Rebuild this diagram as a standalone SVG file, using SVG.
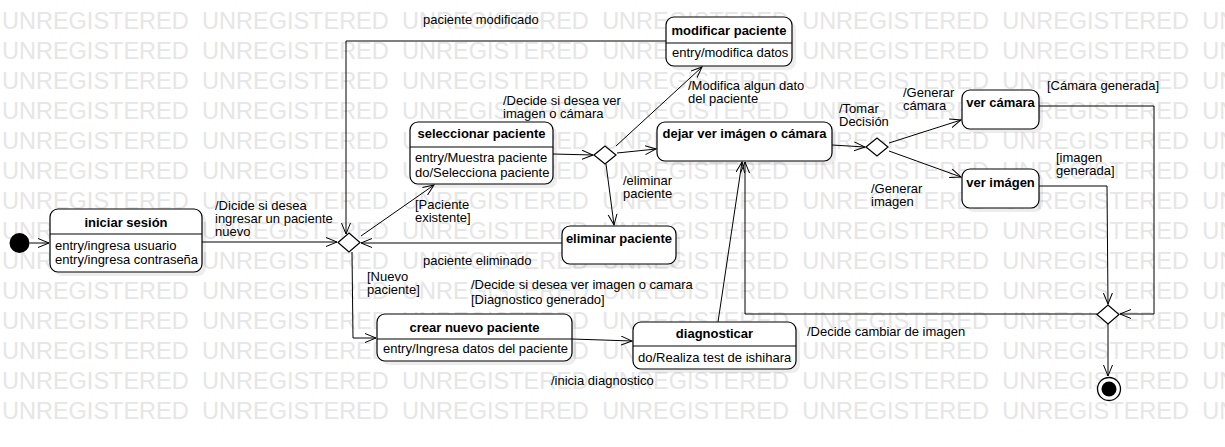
<svg xmlns="http://www.w3.org/2000/svg" xmlns:xlink="http://www.w3.org/1999/xlink" width="1225" height="447" viewBox="0 0 1225 447">
<style>
.wm{font-family:"Liberation Sans",Arial,sans-serif;font-size:23.5px;fill:#e6e6e6;word-spacing:6.8px}
.box{fill:#fff;stroke:#000;stroke-width:1.2}
.sh{fill:#000;opacity:0.07}
.dv{stroke:#000;stroke-width:1.2}
.t{font-family:"Liberation Sans",Arial,sans-serif;font-size:13px;fill:#000}
.b{font-weight:bold}
.ln{fill:none;stroke:#000;stroke-width:1;marker-end:url(#arr)}
.dm{fill:#fff;stroke:#000;stroke-width:1.2}
</style>
<defs>
<marker id="arr" markerWidth="12" markerHeight="11" refX="11" refY="5" orient="auto" markerUnits="userSpaceOnUse"><path d="M0,0.5 L11,5 L0,9.5" fill="none" stroke="#000" stroke-width="1"/></marker>
<text id="wmrow" class="wm" x="2" y="0">UNREGISTERED UNREGISTERED UNREGISTERED UNREGISTERED UNREGISTERED UNREGISTERED UNREGISTERED</text>
</defs>
<rect width="1225" height="447" fill="#fff"/>
<g id="watermark">
<use xlink:href="#wmrow" y="29"/><use xlink:href="#wmrow" y="59"/><use xlink:href="#wmrow" y="89"/><use xlink:href="#wmrow" y="119"/><use xlink:href="#wmrow" y="149"/><use xlink:href="#wmrow" y="179"/><use xlink:href="#wmrow" y="209"/><use xlink:href="#wmrow" y="239"/><use xlink:href="#wmrow" y="269"/><use xlink:href="#wmrow" y="299"/><use xlink:href="#wmrow" y="329"/><use xlink:href="#wmrow" y="359"/><use xlink:href="#wmrow" y="389"/><use xlink:href="#wmrow" y="419"/>
</g>
<g id="connectors">
<path class="ln" d="M29.5,243 L49,243"/>
<path class="ln" d="M202,242 L337,242"/>
<path class="ln" d="M666,41 L346,41 L346,234"/>
<path class="ln" d="M361,236 L434,185"/>
<path class="ln" d="M553,154 L593,155"/>
<path class="ln" d="M617,153 L656,149"/>
<path class="ln" d="M616,146 L702,67"/>
<path class="ln" d="M606,164 L614,225"/>
<path class="ln" d="M562,243 L361,243"/>
<path class="ln" d="M352,252 L353,338 L376,338"/>
<path class="ln" d="M572,339 L632,341"/>
<path class="ln" d="M718,322 L742,162"/>
<path class="ln" d="M832,145 L865,147"/>
<path class="ln" d="M889,143 L961,120"/>
<path class="ln" d="M889,151 L961,177"/>
<path class="ln" d="M1039,106 L1154,106 L1154,314 L1120,314"/>
<path class="ln" d="M1039,186 L1107,186 L1108,304"/>
<path class="ln" d="M1097,314 L745,314 L745,162"/>
<path class="ln" d="M1108,324 L1108,376"/>
</g>
<g id="labels">
<text class="t" x="215" y="210">/Dicide si desea</text>
<text class="t" x="215" y="223">ingresar un paciente</text>
<text class="t" x="215" y="236">nuevo</text>
<text class="t" x="423" y="24">paciente modificado</text>
<text class="t" x="503" y="105">/Decide si desea ver</text>
<text class="t" x="503" y="118">imagen o cámara</text>
<text class="t" x="415" y="209">[Paciente</text>
<text class="t" x="415" y="222">existente]</text>
<text class="t" x="688" y="90">/Modifica algun dato</text>
<text class="t" x="688" y="103">del paciente</text>
<text class="t" x="623" y="185">/eliminar</text>
<text class="t" x="623" y="198">paciente</text>
<text class="t" x="423" y="265">paciente eliminado</text>
<text class="t" x="367" y="281">[Nuevo</text>
<text class="t" x="367" y="294">paciente]</text>
<text class="t" x="471" y="289">/Decide si desea ver imagen o camara</text>
<text class="t" x="471" y="304">[Diagnostico generado]</text>
<text class="t" x="551" y="385">/inicia diagnostico</text>
<text class="t" x="807" y="336">/Decide cambiar de imagen</text>
<text class="t" x="839" y="113">/Tomar</text>
<text class="t" x="839" y="126">Decisión</text>
<text class="t" x="903" y="97">/Generar</text>
<text class="t" x="903" y="110">cámara</text>
<text class="t" x="871" y="193">/Generar</text>
<text class="t" x="871" y="206">imagen</text>
<text class="t" x="1047" y="90">[Cámara generada]</text>
<text class="t" x="1056" y="162">[imagen</text>
<text class="t" x="1056" y="175">generada]</text>
</g>
<g id="start"><circle cx="19.5" cy="243" r="10" fill="#000"/></g>
<g id="iniciar-sesion">
<rect class="sh" x="54" y="213" width="152" height="63" rx="8"/>
<rect class="box" x="50" y="209" width="152" height="63" rx="8"/>
<line class="dv" x1="50" y1="234" x2="202" y2="234"/>
<text class="t b" x="126" y="227" text-anchor="middle">iniciar sesión</text>
<text class="t" x="55" y="250">entry/ingresa usuario</text>
<text class="t" x="55" y="264">entry/ingresa contraseña</text>
</g>
<g id="decision-1"><path class="dm" d="M338,242.5 L349,233 L360,242.5 L349,252 Z"/></g>
<g id="modificar-paciente">
<rect class="sh" x="670" y="21" width="126" height="49" rx="8"/>
<rect class="box" x="666" y="17" width="126" height="49" rx="8"/>
<line class="dv" x1="666" y1="43" x2="792" y2="43"/>
<text class="t b" x="729" y="35" text-anchor="middle">modificar paciente</text>
<text class="t" x="672" y="57">entry/modifica datos</text>
</g>
<g id="seleccionar-paciente">
<rect class="sh" x="414" y="126" width="143" height="62" rx="8"/>
<rect class="box" x="410" y="122" width="143" height="62" rx="8"/>
<line class="dv" x1="410" y1="147" x2="553" y2="147"/>
<text class="t b" x="481.5" y="138" text-anchor="middle">seleccionar paciente</text>
<text class="t" x="415" y="162">entry/Muestra paciente</text>
<text class="t" x="415" y="177">do/Selecciona paciente</text>
</g>
<g id="decision-2"><path class="dm" d="M594,155 L605,146 L616,155 L605,164 Z"/></g>
<g id="dejar-ver">
<rect class="sh" x="661" y="126" width="175" height="39" rx="8"/>
<rect class="box" x="657" y="122" width="175" height="39" rx="8"/>
<text class="t b" x="744.5" y="138" text-anchor="middle">dejar ver imágen o cámara</text>
</g>
<g id="eliminar-paciente">
<rect class="sh" x="566" y="230" width="114" height="38" rx="8"/>
<rect class="box" x="562" y="226" width="114" height="38" rx="8"/>
<text class="t b" x="619" y="243" text-anchor="middle">eliminar paciente</text>
</g>
<g id="crear-nuevo-paciente">
<rect class="sh" x="381" y="318" width="195" height="47" rx="8"/>
<rect class="box" x="377" y="314" width="195" height="47" rx="8"/>
<line class="dv" x1="377" y1="339" x2="572" y2="339"/>
<text class="t b" x="474.5" y="332" text-anchor="middle">crear nuevo paciente</text>
<text class="t" x="383" y="353">entry/Ingresa datos del paciente</text>
</g>
<g id="diagnosticar">
<rect class="sh" x="637" y="326" width="163" height="47" rx="8"/>
<rect class="box" x="633" y="322" width="163" height="47" rx="8"/>
<line class="dv" x1="633" y1="346" x2="796" y2="346"/>
<text class="t b" x="714.5" y="338" text-anchor="middle">diagnosticar</text>
<text class="t" x="638" y="362">do/Realiza test de ishihara</text>
</g>
<g id="decision-3"><path class="dm" d="M866,147 L877,138 L888,147 L877,156 Z"/></g>
<g id="ver-camara">
<rect class="sh" x="966" y="94" width="77" height="39" rx="8"/>
<rect class="box" x="962" y="90" width="77" height="39" rx="8"/>
<text class="t b" x="1000.5" y="107" text-anchor="middle">ver cámara</text>
</g>
<g id="ver-imagen">
<rect class="sh" x="966" y="173" width="77" height="39" rx="8"/>
<rect class="box" x="962" y="169" width="77" height="39" rx="8"/>
<text class="t b" x="1000.5" y="187" text-anchor="middle">ver imágen</text>
</g>
<g id="decision-4"><path class="dm" d="M1097,314.5 L1108,305 L1119,314.5 L1108,324 Z"/></g>
<g id="end">
<circle cx="1109" cy="389" r="11.5" fill="#fff" stroke="#000" stroke-width="1.3"/>
<circle cx="1109" cy="389" r="7.5" fill="#000"/>
</g>
</svg>
